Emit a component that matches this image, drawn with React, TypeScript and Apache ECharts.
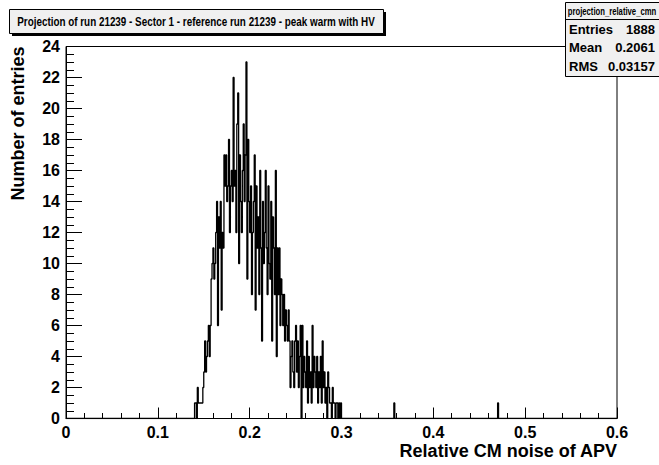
import React, { useEffect, useRef } from "react";
import * as echarts from "echarts";

// Histogram: bin low edge start, bin width, counts per bin
const binStart = 0.14;
const binWidth = 0.001;
const counts: number[] = [
  1, 1, 0, 2, 1, 1, 1, 1, 1, 2,
  3, 5, 3, 4, 5, 6, 4, 6, 9, 10,
  11, 9, 10, 12, 14, 6, 13, 11, 14, 7,
  12, 11, 17, 15, 17, 14, 15, 18, 12, 15,
  16, 14, 22, 15, 16, 12, 19, 21, 10, 17,
  14, 12, 16, 19, 14, 17, 23, 9, 18, 14,
  12, 15, 8, 12, 14, 17, 7, 15, 11, 13,
  8, 16, 11, 5, 14, 10, 12, 16, 11, 8,
  15, 10, 9, 14, 5, 13, 11, 8, 16, 4,
  11, 8, 11, 6, 9, 8, 6, 8, 5, 7,
  6, 5, 7, 5, 2, 4, 5, 3, 2, 5,
  6, 3, 5, 2, 4, 6, 0, 6, 2, 4,
  3, 2, 5, 1, 4, 2, 3, 1, 6, 2,
  4, 3, 2, 4, 1, 3, 2, 4, 1, 5,
  2, 3, 1, 2, 0, 3, 2, 1, 1, 0,
  2, 1, 1, 0, 1, 1, 0, 1, 0, 1,
];
// isolated single entries far out in the tail
const outlierEdges: number[] = [0.357, 0.47];
const outlierCounts: number[] = [1, 1];

const xMin = 0;
const xMax = 0.6;
const yMin = 0;
const yMax = 24;

const titleText =
  "Projection of run 21239 - Sector 1 - reference run 21239 - peak warm with HV";
const xTitle = "Relative CM noise of APV";
const yTitle = "Number of entries";
const statsName = "projection_relative_cmn";
const statsLabels: string[] = ["Entries", "Mean", "RMS"];
const statsValues: string[] = ["1888", "0.2061", "0.03157"];

const FONT = "'Liberation Sans', Arial, Helvetica, sans-serif";

function buildSteps(): number[][] {
  const pts: number[][] = [[xMin, 0]];
  counts.forEach((c, i) => pts.push([binStart + i * binWidth, c]));
  pts.push([binStart + counts.length * binWidth, 0]);
  outlierEdges.forEach((x, i) => {
    pts.push([x, outlierCounts[i]]);
    pts.push([x + binWidth, 0]);
  });
  pts.push([xMax, 0]);
  return pts;
}

export default function App() {
  const ref = useRef<HTMLDivElement>(null);
  useEffect(() => {
    if (!ref.current) return;
    const chart = echarts.init(ref.current, null, { renderer: "svg" });
    const statsGraphics: any[] = [];
    statsLabels.forEach((lab, i) => {
      const cy = 29 + i * 18.5;
      statsGraphics.push({
        type: "text",
        x: 569,
        y: cy,
        style: {
          text: lab,
          fill: "#000",
          font: `bold 13px ${FONT}`,
          textAlign: "left",
          textVerticalAlign: "middle",
        },
      });
      statsGraphics.push({
        type: "text",
        x: 655,
        y: cy,
        style: {
          text: statsValues[i],
          fill: "#000",
          font: `bold 13px ${FONT}`,
          textAlign: "right",
          textVerticalAlign: "middle",
        },
      });
    });
    chart.setOption({
      animation: false,
      backgroundColor: "#ffffff",
      grid: {
        left: 66,
        right: 42,
        top: 46.5,
        bottom: 46.5,
        show: true,
        borderColor: "#000",
        borderWidth: 1,
        backgroundColor: "#ffffff",
      },
      xAxis: {
        type: "value",
        min: xMin,
        max: xMax,
        interval: 0.1,
        axisLine: { show: true, onZero: false, lineStyle: { color: "#000", width: 1 } },
        axisTick: { show: true, inside: true, length: 11, lineStyle: { color: "#000" } },
        minorTick: { show: true, splitNumber: 5, length: 5.5, lineStyle: { color: "#000" } },
        splitLine: { show: false },
        axisLabel: {
          color: "#000",
          fontSize: 16,
          fontWeight: "bold",
          fontFamily: FONT,
          margin: 6,
          formatter: (v: number) => (v === 0 ? "0" : v.toFixed(1)),
        },
        name: xTitle,
        nameLocation: "end",
        nameGap: 0,
        nameTextStyle: {
          color: "#000",
          fontSize: 18,
          fontWeight: "bold",
          fontFamily: FONT,
          align: "right",
          verticalAlign: "top",
          padding: [23, 0, 0, 0],
        },
      },
      yAxis: {
        type: "value",
        min: yMin,
        max: yMax,
        interval: 2,
        axisLine: { show: true, lineStyle: { color: "#000", width: 1 } },
        axisTick: { show: true, inside: true, length: 16, lineStyle: { color: "#000" } },
        minorTick: { show: true, splitNumber: 4, length: 8, lineStyle: { color: "#000" } },
        splitLine: { show: false },
        axisLabel: {
          color: "#000",
          fontSize: 16,
          fontWeight: "bold",
          fontFamily: FONT,
          margin: 6,
        },
      },
      graphic: [
        {
          type: "text",
          x: 18,
          y: 46.5,
          rotation: Math.PI / 2,
          style: {
            text: yTitle,
            fill: "#000",
            font: `bold 18px ${FONT}`,
            textAlign: "right",
            textVerticalAlign: "middle",
          },
        },
        { type: "rect", shape: { x: 12, y: 12, width: 374, height: 24 }, style: { fill: "#000" } },
        {
          type: "rect",
          shape: { x: 9.5, y: 9.5, width: 374, height: 24 },
          style: { fill: "#f0f0f0", stroke: "#000", lineWidth: 1 },
        },
        {
          type: "text",
          x: 196,
          y: 21.5,
          scaleX: 0.76,
          style: {
            text: titleText,
            fill: "#000",
            font: `bold 13px ${FONT}`,
            textAlign: "center",
            textVerticalAlign: "middle",
          },
        },
        {
          type: "rect",
          shape: { x: 565.5, y: 2.5, width: 100, height: 74 },
          style: { fill: "#f0f0f0", stroke: "#000", lineWidth: 1 },
        },
        {
          type: "line",
          shape: { x1: 565.5, y1: 19.5, x2: 659, y2: 19.5 },
          style: { stroke: "#000", lineWidth: 1 },
        },
        {
          type: "text",
          x: 612,
          y: 11,
          scaleX: 0.7,
          style: {
            text: statsName,
            fill: "#000",
            font: `bold 11px ${FONT}`,
            textAlign: "center",
            textVerticalAlign: "middle",
          },
        },
        ...statsGraphics,
      ],
      series: [
        {
          type: "line",
          step: "end",
          symbol: "none",
          data: buildSteps(),
          lineStyle: { color: "#000", width: 1.3 },
          z: 3,
        },
      ],
    });
    return () => chart.dispose();
  }, []);
  return (
    <div
      ref={ref}
      style={{ position: "fixed", left: 0, top: 0, width: 659, height: 465 }}
    />
  );
}
